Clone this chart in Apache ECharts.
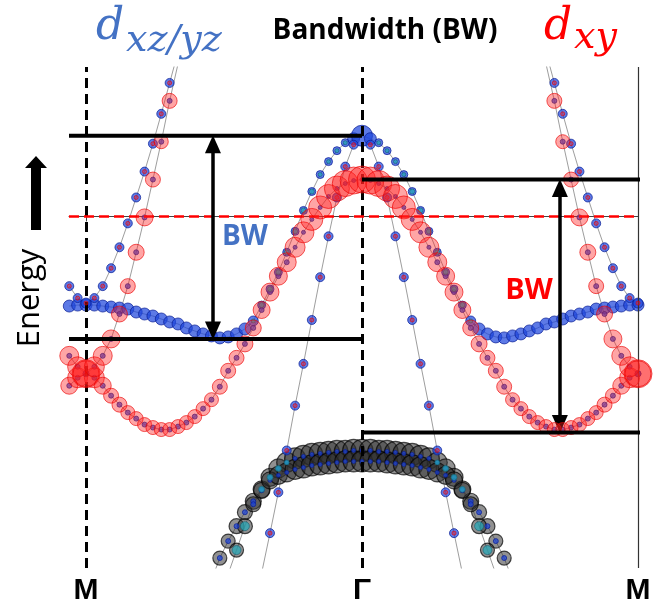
<!DOCTYPE html>
<html><head><meta charset="utf-8">
<script src="https://cdn.jsdelivr.net/npm/echarts@6/dist/echarts.min.js"></script>
<style>html,body{margin:0;padding:0;background:#fff}#c{width:658px;height:606px}</style>
</head><body><div id="c"></div>
<script>
// ---- k-path: M (0) – Γ (1) – M (2); 33 k-steps per segment ----
const kLabels = ['M', 'Γ', 'M'];
const kTicks = [0, 1, 2];
const stepsPerSegment = 33;

// ---- band energies (eV, Fermi level = 0), half path M→Γ, with orbital weights (marker sizes) ----
// dxy main band (M → min → Γ)
const dxyMainE = [-1.58,-1.62,-1.70,-1.80,-1.89,-1.97,-2.03,-2.09,-2.12,-2.14,-2.14,-2.11,-2.07,-2.01,-1.93,-1.84,-1.71,-1.55,-1.42,-1.28,-1.12,-0.94,-0.76,-0.60,-0.46,-0.31,-0.16,-0.03,0.09,0.20,0.28,0.33,0.36,0.37];
const dxyMainRed = [28,20,17,15,15,14,14,14,14,14,14,14,14,14,14,14,15,15,15,16,16,17,18,18,19,20,21,22,23,24,25,26,27,27];
const dxyMainBlue = [6,5,5,5,5,5,5,5,5,5,5,5,5,5,5,5,5,5,5,5,5,5,5,5,5,4,4,4,4,4,4,4,4,4];
// steep dxy band rising from M
const dxySteepE = [-1.58,-1.51,-1.40,-1.23,-0.98,-0.70,-0.36,-0.01,0.37,0.75,1.16,1.53,1.92];
const dxySteepRed = [26,20,19,18,16,15,16,17,15,14,15,14,14];
const dxySteepBlue = [6,5,5,5,5,5,5,5,5,5,5,5,5];
// steep dxz/yz band rising from M
const xzSteepE = [-0.87,-0.82,-0.70,-0.52,-0.31,-0.07,0.19,0.45,0.73,1.03,1.34,1.65,1.97];
const xzSteepBlue = [10,9,9,9,9,9,9,9,9,9,9,9,9];
const xzSteepRed = [4,4,4,4,4,4,4,4,4,4,4,4,4];
// flat dxz/yz band (M → min → Γ top)
const xzFlatE = [-0.89,-0.89,-0.90,-0.91,-0.92,-0.93,-0.96,-0.98,-1.00,-1.03,-1.06,-1.08,-1.12,-1.15,-1.18,-1.20,-1.22,-1.21,-1.18,-1.13,-1.05,-0.89,-0.73,-0.56,-0.36,-0.15,0.06,0.25,0.42,0.55,0.66,0.74,0.78,0.81];
const xzFlatBlue = [12,12,12,12,12,12,12,12,12,12,12,12,12,12,12,12,12,12,12,12,10,8,8,8,8,8,8,8,8,8,8,8,12,21];
const xzFlatTeal = [0,0,0,0,0,0,0,0,0,0,0,0,0,0,0,0,0,0,0,0,4,5,5,5,5,5,5,5,4,4,4,4,0,0];
// steep dxz/yz band falling from Γ top (starts at k-step 21)
const xzGammaStart = 21;
const xzGammaE = [-3.58,-3.18,-2.77,-2.35,-1.90,-1.48,-1.04,-0.61,-0.20,0.19,0.50,0.72,0.81];
const xzGammaBlue = [9,9,9,9,9,9,9,9,9,9,9,9,0];
const xzGammaRed = [4,4,4,4,4,4,4,4,4,4,4,4,0];
// lower bands (dome at Γ)
const low1Start = 15;
const low1E = [-3.65,-3.43,-3.26,-3.11,-2.97,-2.86,-2.74,-2.62,-2.53,-2.47,-2.43,-2.41,-2.39,-2.38,-2.37,-2.36,-2.36,-2.35,-2.35];
const low1Gray = [14,14,14,15,15,16,17,18,19,20,21,22,22,22,22,22,22,22,22];
const low1Blue = [5,5,5,5,5,5,4,4,4,4,4,4,4,4,4,4,4,4,4];
const low1Teal = [0,0,0,0,0,0,6,6,6,5,0,0,0,0,0,0,0,0,0];
const low2Start = 17;
const low2E = [-3.59,-3.35,-3.11,-2.89,-2.75,-2.65,-2.60,-2.57,-2.54,-2.52,-2.50,-2.49,-2.48,-2.47,-2.46,-2.46,-2.46];
const low2Gray = [14,14,15,15,16,17,18,19,20,21,21,21,21,21,21,21,21];
const low2Blue = [5,0,0,5,5,4,4,4,4,4,4,4,4,4,4,4,4];
const low2Teal = [0,9,9,0,0,0,0,0,0,0,0,0,0,0,0,0,0];

// ---- bandwidth annotations (eV) ----
const bwXz = [0.81, -1.23];   // top, bottom of dxz/yz band
const bwXy = [0.37, -2.17];   // top, bottom of dxy band
const bwArrowK = [0.46, 1.717];
const fermiE = 0;

// ---- axis ranges ----
const kMin = -0.0616, kMax = 2, kRightEnd = 2.072;
const eMin = -3.53, eMax = 1.50;

const bands = [
  {E: xzFlatE, start: 0, w: {blue: xzFlatBlue, teal: xzFlatTeal}},
  {E: xzSteepE, start: 0, w: {blue: xzSteepBlue, red: xzSteepRed}},
  {E: xzGammaE, start: xzGammaStart, w: {blue: xzGammaBlue, red: xzGammaRed}},
  {E: low1E, start: low1Start, w: {gray: low1Gray, blue: low1Blue, teal: low1Teal}},
  {E: low2E, start: low2Start, w: {gray: low2Gray, blue: low2Blue, teal: low2Teal}},
  {E: dxyMainE, start: 0, w: {red: dxyMainRed, blue: dxyMainBlue}},
  {E: dxySteepE, start: 0, w: {red: dxySteepRed, blue: dxySteepBlue}}
];

function bandPaths(b) {
  const n = stepsPerSegment;
  const last = b.start + b.E.length - 1;
  const paths = [];
  if (last === n) {
    const p = [];
    if (b.start === 0) p.push({k: -2 / n, j: 2}, {k: -1 / n, j: 1});
    for (let j = b.start; j <= n; j++) p.push({k: j / n, j});
    for (let j = n - 1; j >= b.start; j--) p.push({k: (2 * n - j) / n, j});
    paths.push(p);
  } else {
    const a = [{k: -2 / n, j: 2}, {k: -1 / n, j: 1}];
    for (let j = 0; j <= last; j++) a.push({k: j / n, j});
    const c = [];
    for (let j = last; j >= 0; j--) c.push({k: (2 * n - j) / n, j});
    paths.push(a, c);
  }
  return paths;
}

const series = [];
bands.forEach(b => bandPaths(b).forEach(p => series.push({
  type: 'line', data: p.map(q => [q.k, b.E[q.j - b.start]]),
  symbol: 'none', showSymbol: false, silent: true, z: 1,
  lineStyle: {color: 'rgba(110,110,110,0.85)', width: 0.8}
})));

const orbitalStyles = {
  gray: {color: 'rgba(45,45,45,0.66)', borderColor: 'rgba(0,0,0,0.85)', borderWidth: 1.2},
  blue: {color: 'rgba(30,70,220,0.9)', borderColor: 'rgba(10,30,150,0.9)', borderWidth: 1},
  teal: {color: 'rgba(40,170,185,0.92)', borderColor: 'rgba(20,90,110,0.9)', borderWidth: 0.8},
  red: {color: 'rgba(255,30,30,0.5)', borderColor: 'rgba(235,0,0,0.8)', borderWidth: 1}
};
['gray', 'blue', 'teal', 'red'].forEach((o, idx) => {
  const pts = [];
  bands.forEach(b => {
    const w = b.w[o];
    if (!w) return;
    bandPaths(b).forEach(p => p.forEach(q => {
      const s = w[q.j - b.start];
      if (s > 0) pts.push([q.k, b.E[q.j - b.start], s]);
    }));
  });
  series.push({type: 'scatter', data: pts, symbolSize: v => v[2], itemStyle: orbitalStyles[o], z: 2 + idx, silent: true});
});

const headPad = 0.085;
const blackLine = {color: '#000', width: 4};
series.push({type: 'line', data: [[kMin, bwXz[0]], [1, bwXz[0]]], symbol: 'none', lineStyle: blackLine, z: 10, silent: true, clip: false,
  markLine: {
    silent: true, symbol: ['none', 'none'], label: {show: false}, animation: false,
    data: [
      {xAxis: 0, lineStyle: {type: [10, 6], width: 3, color: '#000'}},
      {xAxis: 1, lineStyle: {type: [10, 6], width: 3, color: '#000'}},
      {xAxis: 2, lineStyle: {type: 'solid', width: 1.2, color: '#333'}},
      {yAxis: fermiE, lineStyle: {type: [10, 5], width: 2.5, color: '#ff0000'}},
      [{coord: [bwArrowK[0], bwXz[0] - headPad], symbol: 'triangle', symbolSize: [16, 18], lineStyle: {type: 'solid', width: 3.5, color: '#000'}},
       {coord: [bwArrowK[0], bwXz[1] + headPad], symbol: 'triangle', symbolSize: [16, 18]}],
      [{coord: [bwArrowK[1], bwXy[0] - headPad], symbol: 'triangle', symbolSize: [16, 18], lineStyle: {type: 'solid', width: 3.5, color: '#000'}},
       {coord: [bwArrowK[1], bwXy[1] + headPad], symbol: 'triangle', symbolSize: [16, 18]}]
    ]
  }});
series.push({type: 'line', data: [[kMin, bwXz[1]], [1, bwXz[1]]], symbol: 'none', lineStyle: blackLine, z: 10, silent: true, clip: false});
series.push({type: 'line', data: [[1, bwXy[0]], [kRightEnd, bwXy[0]]], symbol: 'none', lineStyle: blackLine, z: 10, silent: true, clip: false});
series.push({type: 'line', data: [[1, bwXy[1]], [kRightEnd, bwXy[1]]], symbol: 'none', lineStyle: blackLine, z: 10, silent: true, clip: false});

const chart = echarts.init(document.getElementById('c'));
chart.setOption({
  animation: false,
  grid: {left: 69, right: 20, top: 67, bottom: 36, containLabel: false},
  xAxis: {
    type: 'value', min: kMin, max: kMax,
    axisLine: {show: true, lineStyle: {color: '#444', width: 1}},
    axisTick: {show: true, customValues: kTicks, length: 5, lineStyle: {color: '#444'}},
    axisLabel: {show: true, customValues: kTicks, formatter: v => kLabels[kTicks.indexOf(v)],
      fontSize: 30, fontWeight: 'bold', color: '#000', fontFamily: 'Liberation Sans', margin: 8},
    splitLine: {show: false}
  },
  yAxis: {type: 'value', min: eMin, max: eMax, show: false, splitLine: {show: false}},
  graphic: [
    {type: 'text', x: 385, y: 31, style: {text: 'Bandwidth (BW)', font: 'bold 28px "Open Sans"', fill: '#000', align: 'center', verticalAlign: 'middle'}},
    {type: 'text', x: 96, y: 28, style: {text: 'd', font: 'italic 44px "DejaVu Serif"', fill: '#4472C4', align: 'left', verticalAlign: 'middle'}},
    {type: 'text', x: 126, y: 41, style: {text: 'xz/yz', font: 'italic 38px "DejaVu Serif"', fill: '#4472C4', align: 'left', verticalAlign: 'middle'}},
    {type: 'text', x: 544, y: 28, style: {text: 'd', font: 'italic 44px "DejaVu Serif"', fill: '#FF0000', align: 'left', verticalAlign: 'middle'}},
    {type: 'text', x: 574, y: 38, style: {text: 'xy', font: 'italic 38px "DejaVu Serif"', fill: '#FF0000', align: 'left', verticalAlign: 'middle'}},
    {type: 'text', x: 245, y: 237, z: 20, style: {text: 'BW', font: 'bold 28px "Open Sans"', fill: '#4472C4', align: 'center', verticalAlign: 'middle'}},
    {type: 'text', x: 529, y: 291, z: 20, style: {text: 'BW', font: 'bold 29px "Open Sans"', fill: '#FF0000', align: 'center', verticalAlign: 'middle'}},
    {type: 'text', x: 30, y: 298, rotation: Math.PI / 2, style: {text: 'Energy', font: '31px "Open Sans"', fill: '#000', align: 'center', verticalAlign: 'middle'}},
    {type: 'polygon', shape: {points: [[31, 230], [41, 230], [41, 168], [47, 168], [36, 156], [25, 168], [31, 168]]}, style: {fill: '#000'}}
  ],
  series: series
});
</script>
</body></html>
